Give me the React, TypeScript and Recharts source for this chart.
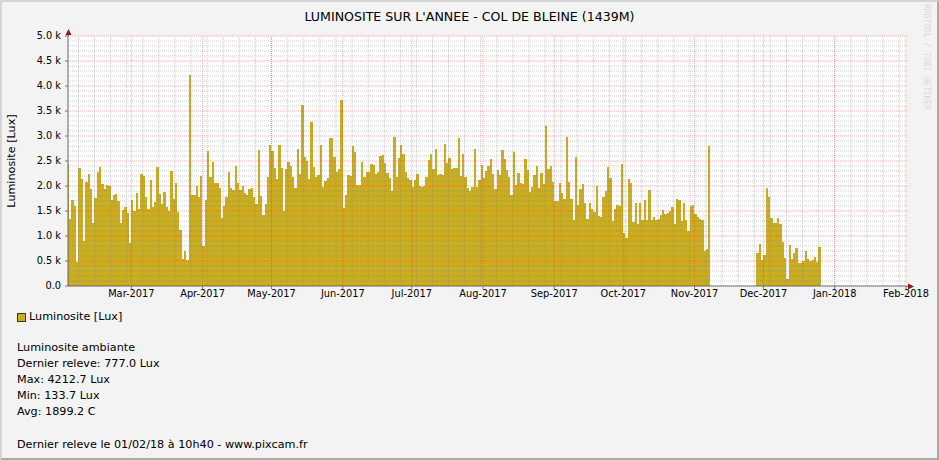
import { BarChart, Bar, XAxis, YAxis, ReferenceLine } from 'recharts';

// daily averages in Lux, one value per day (null = no data)
const feb2017 = [2450, 1340, 1730, 1600, 490, 2360, 2140, 900, 2090, 2240, 1940, 1260, 1760, 2280, 2380, 2040, 1940, 2020, 2000, 1720, 1820, 1840, 1700, 1260, 1520, 1580, 1460, 860];
const mar2017 = [1720, 1500, 1860, 1540, 2240, 2200, 1780, 1540, 2120, 1580, 1680, 2380, 1840, 1640, 1880, 1580, 1500, 2300, 1740, 2060, 1480, 1120, 540, 700, 520, 4213, 1820, 1820, 2000, 1780, 2200];
const apr2017 = [800, 1720, 2700, 2180, 2480, 2060, 2060, 1960, 1360, 1600, 1780, 2280, 1960, 1920, 2400, 2060, 1920, 2000, 1860, 1820, 1940, 1960, 1780, 1640, 2720, 1800, 1420, 1640, 2180, 2820];
const may2017 = [2700, 2360, 2140, 2820, 2360, 1500, 2340, 2480, 2400, 2180, 1960, 2740, 2240, 3620, 2580, 2500, 2140, 3280, 2380, 2180, 2220, 2820, 1980, 2100, 2160, 2960, 2960, 2580, 2280, 2340, 3720];
const jun2017 = [1560, 1820, 2220, 2200, 2800, 2680, 2020, 2020, 2480, 2180, 2280, 2280, 2440, 2420, 2240, 2280, 2600, 2620, 2460, 2260, 2160, 1900, 2980, 2180, 2560, 2820, 2640, 2280, 2160, 2120];
const jul2017 = [1980, 2120, 2240, 2000, 1980, 2000, 2180, 2520, 2640, 2340, 2740, 2220, 2240, 2220, 2840, 2460, 2560, 2340, 2360, 2360, 2960, 2200, 2640, 2180, 1960, 1900, 1980, 2740, 1980, 2120, 2420];
const aug2017 = [2160, 2300, 2400, 2540, 2240, 1940, 2320, 2220, 2720, 2540, 2320, 2180, 1820, 2680, 2020, 2260, 2060, 2040, 2540, 2320, 1880, 1980, 2220, 2400, 1960, 2260, 2040, 3200, 2340, 2400, 2080];
const sep2017 = [1700, 1700, 2060, 1860, 1740, 2980, 2080, 1740, 1320, 2580, 1620, 1940, 2040, 1660, 1340, 1660, 1540, 1480, 2000, 1400, 1380, 1780, 1900, 2380, 2160, 1300, 1540, 1620, 1600, 2440];
const oct2017 = [1060, 960, 2140, 2060, 1280, 1660, 1240, 1660, 1320, 1720, 1320, 1920, 1320, 1380, 1320, 1340, 1420, 1520, 1440, 1460, 1500, 1580, 1240, 1740, 1720, 1300, 1660, 1320, 1100, 1600, 1620];
const nov2017 = [1440, 1380, 1340, 1320, 700, 740, 2800, null, null, null, null, null, null, null, null, null, null, null, null, null, null, null, null, null, null, null, null, 660, 840, 520];
const dec2017 = [620, 1970, 1790, 1370, 1270, 1270, 1370, 1240, 880, 570, 134, 820, 540, 670, 770, 470, 470, 500, 700, 540, 500, 520, 590, 490, 777];

const monthLabels = ['Mar-2017', 'Apr-2017', 'May-2017', 'Jun-2017', 'Jul-2017', 'Aug-2017', 'Sep-2017', 'Oct-2017', 'Nov-2017', 'Dec-2017', 'Jan-2018', 'Feb-2018'];
const yTicks = [0, 500, 1000, 1500, 2000, 2500, 3000, 3500, 4000, 4500, 5000];

const title = "LUMINOSITE SUR L'ANNEE - COL DE BLEINE (1439M)";
const seriesName = 'Luminosite [Lux]';
const statLines = ['Luminosite ambiante', 'Dernier releve: 777.0 Lux', 'Max: 4212.7 Lux', 'Min: 133.7 Lux', 'Avg: 1899.2 C'];
const footer = 'Dernier releve le 01/02/18 à 10h40 - www.pixcam.fr';

const DAY = 86400000;
const origin = Date.UTC(2017, 1, 1);
const dayOf = (y: number, m: number, d: number) => (Date.UTC(y, m, d) - origin) / DAY;
const start = 10 / 24 + 40 / 1440; // 01/02/17 10h40
const end = 365 + start;

const daily: (number | null)[] = [...feb2017, ...mar2017, ...apr2017, ...may2017, ...jun2017, ...jul2017, ...aug2017, ...sep2017, ...oct2017, ...nov2017, ...dec2017];
const data = Array.from({ length: 365 }, (_, d) => ({ x: d + 0.5, lux: daily[d] ?? null }));

const monthStarts = monthLabels.map((_, i) => dayOf(2017, 2 + i, 1));
const weekStarts: number[] = [];
for (let d = dayOf(2017, 1, 6); d < end; d += 7) weekStarts.push(d);
const minorY: number[] = [];
for (let v = 100; v < 5000; v += 100) if (v % 500) minorY.push(v);

const PLOT_W = 839;
const BAND = PLOT_W / 365; // one day in px
const font = '"DejaVu Sans", sans-serif';
const GOLD = '#cbae1d';
const MINOR = 'rgba(120,120,120,0.36)';
const MAJOR = 'rgba(255,0,0,0.3)';

const fmtY = (v: number) => (v === 0 ? '0.0' : `${(v / 1000).toFixed(1)} k`);
const fmtX = (v: number) => monthLabels[monthStarts.indexOf(v)] ?? '';

// recharts truncates the bar width to whole pixels, so widen each bar to a full day
const DayBar = (p: any) => {
  if (!p.height || p.height <= 0) return <g />;
  const cx = p.x + p.width / 2;
  return <rect x={cx - BAND / 2} y={p.y} width={BAND} height={p.height} fill={GOLD} shapeRendering="crispEdges" />;
};

const textLine = (top: number, size = 11.2): React.CSSProperties => ({
  position: 'absolute',
  left: 17,
  top,
  fontSize: size,
  lineHeight: '16px',
  whiteSpace: 'nowrap',
  color: '#000',
});

export default function App() {
  return (
    <div
      style={{
        position: 'fixed',
        left: 0,
        top: 0,
        width: 939,
        height: 460,
        boxSizing: 'border-box',
        background: '#f3f3f3',
        borderTop: '2px solid #d4d4d4',
        borderLeft: '2px solid #d4d4d4',
        borderRight: '2px solid #a9a9a9',
        borderBottom: '2px solid #a9a9a9',
        fontFamily: font,
        overflow: 'hidden',
      }}
    >
      <div style={{ position: 'absolute', left: -2, top: -2 }}>
        <div style={{ position: 'absolute', left: 68, top: 36, width: PLOT_W, height: 250, background: '#fff' }} />
        <BarChart
          width={939}
          height={460}
          data={data}
          margin={{ top: 36, right: 32, bottom: 154, left: 8 }}
          barCategoryGap={0}
          barGap={0}
          style={{ position: 'absolute', left: 0, top: 0 }}
        >
          <XAxis
            type="number"
            dataKey="x"
            domain={[start, end]}
            allowDataOverflow
            ticks={monthStarts}
            interval={0}
            tickFormatter={fmtX}
            tick={{ fontSize: 9.8, fill: '#000', fontFamily: font }}
            tickSize={3}
            tickMargin={1}
            tickLine={{ stroke: '#777' }}
            axisLine={{ stroke: '#666' }}
            height={20}
          />
          <YAxis
            type="number"
            domain={[0, 5000]}
            ticks={yTicks}
            interval={0}
            tickFormatter={fmtY}
            tick={{ fontSize: 9.8, fill: '#000', fontFamily: font }}
            tickSize={3}
            tickMargin={4}
            tickLine={{ stroke: '#777' }}
            axisLine={{ stroke: '#666' }}
            width={60}
          />
          <Bar dataKey="lux" fill={GOLD} shape={DayBar} isAnimationActive={false} />
          {minorY.map((v) => (
            <ReferenceLine key={`my${v}`} y={v} stroke={MINOR} strokeDasharray="1 1" />
          ))}
          {weekStarts.map((d) => (
            <ReferenceLine key={`w${d}`} x={d} stroke={MINOR} strokeDasharray="1 1" />
          ))}
          {yTicks.slice(1).map((v) => (
            <ReferenceLine key={`My${v}`} y={v} stroke={MAJOR} strokeDasharray="1 1" />
          ))}
          {monthStarts.map((d) => (
            <ReferenceLine key={`M${d}`} x={d} stroke={MAJOR} strokeDasharray="1 1" />
          ))}
        </BarChart>
        <svg width={939} height={460} style={{ position: 'absolute', left: 0, top: 0, pointerEvents: 'none' }}>
          <line x1={68.5} y1={36} x2={68.5} y2={33} stroke="#666" />
          <line x1={907} y1={286.5} x2={910} y2={286.5} stroke="#666" />
          <polygon points="68.5,29 65.5,35 71.5,35" fill="#8b1c1c" />
          <polygon points="914,286.5 908,283.5 908,289.5" fill="#8b1c1c" />
        </svg>
        <div style={{ position: 'absolute', left: 0, width: 939, top: 9, textAlign: 'center', fontSize: 12.6, lineHeight: '16px' }}>
          {title}
        </div>
        <div
          style={{
            position: 'absolute',
            left: 12,
            top: 161,
            fontSize: 11.2,
            lineHeight: '14px',
            whiteSpace: 'nowrap',
            transform: 'translate(-50%, -50%) rotate(-90deg)',
          }}
        >
          {seriesName}
        </div>
        <div
          style={{
            position: 'absolute',
            left: 922,
            top: 4,
            writingMode: 'vertical-rl',
            fontFamily: '"DejaVu Sans Mono", monospace',
            fontSize: 8,
            color: '#dadada',
            whiteSpace: 'nowrap',
          }}
        >
          RRDTOOL / TOBI OETIKER
        </div>
        <div style={{ position: 'absolute', left: 17, top: 313, width: 7, height: 7, background: GOLD, border: '1px solid #333' }} />
        <div style={{ ...textLine(309), left: 29 }}>{seriesName}</div>
        {statLines.map((s, i) => (
          <div key={s} style={textLine(340 + i * 16)}>
            {s}
          </div>
        ))}
        <div style={textLine(437)}>{footer}</div>
      </div>
    </div>
  );
}
